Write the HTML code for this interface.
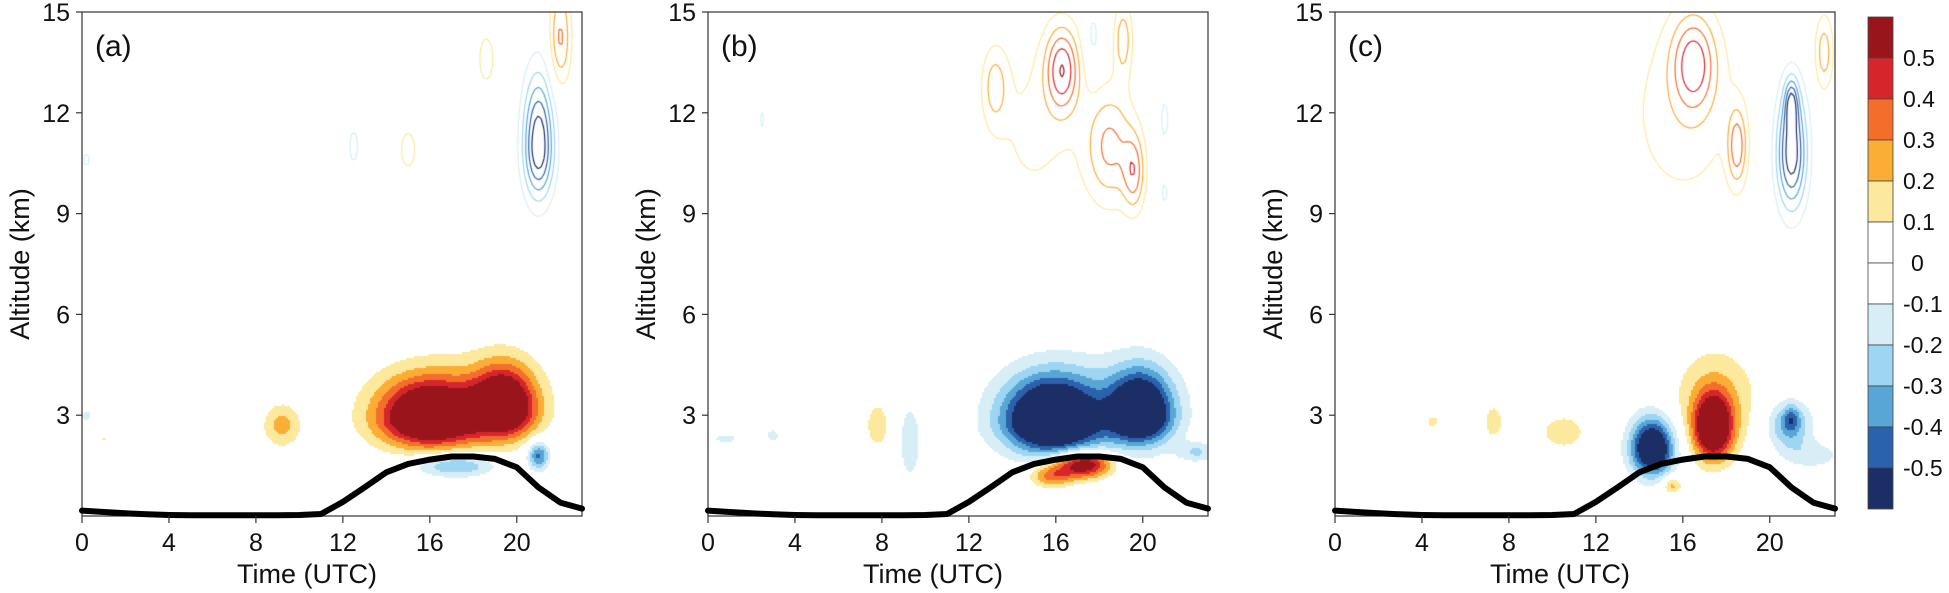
<!DOCTYPE html>
<html><head><meta charset="utf-8">
<style>
html,body{margin:0;padding:0;background:#fff;}
#root{position:relative;width:1949px;height:593px;overflow:hidden;font-family:"Liberation Sans",sans-serif;}
canvas{position:absolute;}
svg{position:absolute;left:0;top:0;}
</style></head>
<body>
<div id="root">
<canvas id="cv0"></canvas>
<canvas id="cv1"></canvas>
<canvas id="cv2"></canvas>
<svg id="sv" width="1949" height="593"></svg>
</div>
<script>
// ---- data ----
const panelLabels = ["(a)","(b)","(c)"];
const xTicks = [0,4,8,12,16,20];
const yTicks = [3,6,9,12,15];
const levels = [-0.5,-0.4,-0.3,-0.2,-0.1,0,0.1,0.2,0.3,0.4,0.5];
const levelColors = ["#1c2e66","#2a62ad","#58a6d6","#9ed5f2","#d8eef6","#ffffff","#ffffff","#fde99d","#fbad35","#f46e2b","#d7262b","#9a151b"];
const cbLabels = ["0.5","0.4","0.3","0.2","0.1","0","-0.1","-0.2","-0.3","-0.4","-0.5"];
const terrainT = [0,1,2,3,4,5,6,7,8,9,10,11,12,13,14,15,16,17,18,19,20,21,22,23];
const terrainZ = [0.16,0.12,0.08,0.05,0.03,0.02,0.02,0.02,0.02,0.02,0.03,0.06,0.42,0.85,1.3,1.55,1.68,1.77,1.77,1.7,1.45,0.85,0.4,0.22];
// blobs: [time, alt, amplitude, sigmaT, sigmaZdown, sigmaZup]
const blobsA = [
 [16,2.9,0.85,1.6,0.55,0.8],[19.4,3.2,0.8,1.0,0.55,0.85],[17.5,3.3,0.12,3.0,1.2,1.2],
 [17.2,1.5,-0.35,1.3,0.25,0.25],[21,1.8,-0.45,0.35,0.3,0.3],
 [9.2,2.7,0.24,0.6,0.45,0.45],[0.2,3.0,-0.12,0.3,0.2,0.2],[1,2.3,0.11,0.2,0.1,0.1],
 [21,11,-0.6,0.5,1.1,1.5],[22,14.2,0.32,0.35,1.0,1.2],[12.5,11,-0.12,0.3,0.7,0.7],[15,10.9,0.12,0.5,0.8,0.8],[18.6,13.6,0.12,0.5,1.0,1.0],[2,12.3,0.11,0.08,0.4,0.4],[0.2,10.6,-0.11,0.3,0.4,0.4]
];
const blobsB = [
 [15.8,2.8,-0.9,1.5,0.6,0.9],[19.9,3.0,-0.85,1.0,0.55,0.9],[17.5,3.2,-0.15,3.0,1.2,1.2],
 [17.3,1.55,0.7,0.9,0.3,0.25],[15.8,1.2,0.35,0.7,0.25,0.25],
 [7.8,2.7,0.2,0.35,0.45,0.45],[9.3,2.2,-0.18,0.35,0.8,0.8],[3,2.4,-0.12,0.3,0.2,0.2],[0.8,2.3,-0.11,1.0,0.2,0.2],[22.5,1.9,-0.2,0.6,0.2,0.2],
 [16.3,13.3,0.45,0.55,0.9,0.9],[18.5,11,0.32,0.8,1.2,1.2],[19.6,10.2,0.3,0.35,0.8,0.8],[13.2,12.8,0.22,0.4,0.8,0.8],
 [15,11.5,0.12,1.6,2.0,2.0],[19.1,14.2,0.26,0.3,0.8,0.8],[17.7,14.2,-0.14,0.3,0.8,0.8],[21,11.8,-0.12,0.25,0.8,0.8],[21,9.6,-0.11,0.25,0.5,0.5],[2.5,11.8,-0.11,0.2,0.5,0.5]
];
const blobsC = [
 [14.6,2.0,-0.8,0.7,0.55,0.65],[17.4,2.6,0.8,0.6,0.6,0.7],[17.5,3.5,0.2,1.4,1.1,1.1],[20.9,2.7,-0.35,0.7,0.5,0.5],[21,2.9,-0.2,0.25,0.25,0.25],[22,1.8,-0.15,1.0,0.3,0.3],
 [10.5,2.5,0.16,0.8,0.4,0.4],[7.3,2.8,0.16,0.35,0.4,0.4],[4.5,2.8,0.12,0.35,0.2,0.2],[15.5,0.9,0.25,0.3,0.2,0.2],
 [16.5,13.5,0.38,0.7,1.0,1.0],[18.5,11,0.33,0.3,0.8,0.8],[16,12,0.15,2.0,2.2,2.2],
 [21,10.8,-0.58,0.5,1.2,1.4],[21,12.3,-0.3,0.2,0.5,0.5],[22.5,13.8,0.26,0.3,0.8,0.8]
];
const panelBlobs = [blobsA, blobsB, blobsC];

// ---- layout ----
const lefts = [82,708,1335], W = 500, TOP = 12, BOT = 516, TMAX = 23, ZMAX = 15;
const xs = (p,t)=> lefts[p] + t / TMAX * W;
const ys = z => BOT - z / ZMAX * (BOT - TOP);
const NS = "http://www.w3.org/2000/svg";
const sv = document.getElementById('sv');
function mk(tag, attrs, parent){const e=document.createElementNS(NS,tag);for(const k in attrs)e.setAttribute(k,attrs[k]);(parent||sv).appendChild(e);return e;}

function terrain(t){
  for(let i=0;i<terrainT.length-1;i++){ if(t<=terrainT[i+1]){const f=(t-terrainT[i])/(terrainT[i+1]-terrainT[i]);return terrainZ[i]+f*(terrainZ[i+1]-terrainZ[i]);} }
  return terrainZ[terrainZ.length-1];
}
function field(blobs,t,z){
  let s=0;
  for(const b of blobs){const dt=(t-b[0])/b[3];const sz=z<b[1]?b[4]:b[5];const dz=(z-b[1])/sz;s+=b[2]*Math.exp(-0.5*(dt*dt+dz*dz));}
  return s;
}
function colorIndex(v){let i=0;while(i<levels.length&&v>=levels[i])i++;return i;}
function lineColor(l){const i=levels.indexOf(l);return l>0?levelColors[i+1]:levelColors[i];}

for(let p=0;p<3;p++){
  const cv=document.getElementById('cv'+p);
  const H=BOT-TOP;
  cv.width=W;cv.height=H;cv.style.left=lefts[p]+'px';cv.style.top=TOP+'px';
  const ctx=cv.getContext('2d');
  const blobs=panelBlobs[p];
  const step=2;
  for(let py=0;py<H;py+=step){
    const z=(BOT-(TOP+py+step/2))/(BOT-TOP)*ZMAX;
    if(z>6.5)continue;
    for(let px=0;px<W;px+=step){
      const t=(px+step/2)/W*TMAX;
      if(z<terrain(t)-0.9)continue;
      const v=field(blobs,t,z);
      const ci=colorIndex(v);
      if(levelColors[ci]==="#ffffff")continue;
      ctx.fillStyle=levelColors[ci];ctx.fillRect(px,py,step,step);
    }
  }
  const g=3,nx=Math.ceil(W/g)+1,ny=Math.ceil(H/g)+1;
  const F=[];
  for(let j=0;j<ny;j++){F.push([]);for(let i=0;i<nx;i++){const t=i*g/W*TMAX,z=(H-j*g)/H*ZMAX;F[j].push(field(blobs,t,z));}}
  ctx.lineWidth=1.2;
  for(const L of levels){
    if(L===0)continue;
    ctx.strokeStyle=lineColor(L);ctx.beginPath();
    for(let j=0;j<ny-1;j++){
      const zc=(H-(j+0.5)*g)/H*ZMAX; if(zc<6.5)continue;
      for(let i=0;i<nx-1;i++){
        const a=F[j][i],b=F[j][i+1],c=F[j+1][i+1],d=F[j+1][i];
        const pts=[];
        const x0=i*g,y0=j*g;
        if((a>=L)!==(b>=L))pts.push([x0+g*(L-a)/(b-a),y0]);
        if((b>=L)!==(c>=L))pts.push([x0+g,y0+g*(L-b)/(c-b)]);
        if((d>=L)!==(c>=L))pts.push([x0+g*(L-d)/(c-d),y0+g]);
        if((a>=L)!==(d>=L))pts.push([x0,y0+g*(L-a)/(d-a)]);
        for(let k=0;k+1<pts.length;k+=2){ctx.moveTo(pts[k][0],pts[k][1]);ctx.lineTo(pts[k+1][0],pts[k+1][1]);}
      }
    }
    ctx.stroke();
  }
}

for(let p=0;p<3;p++){
  const g=mk('g',{});
  
  
  const fr=mk('rect',{x:lefts[p],y:TOP,width:W,height:BOT-TOP,fill:'none',stroke:'#333','stroke-width':1.2},g);
  
  
  let d='';
  terrainT.forEach((t,i)=>{d+=(i?'L':'M')+xs(p,t).toFixed(1)+','+ys(terrainZ[i]).toFixed(1);});
  const tl=mk('path',{d:d,fill:'none',stroke:'#000','stroke-width':6,'stroke-linejoin':'round','stroke-linecap':'round'},g);
  
  
  for(const t of xTicks){
    mk('line',{x1:xs(p,t),x2:xs(p,t),y1:BOT,y2:BOT+7,stroke:'#333','stroke-width':1.2},g);
    const tx=mk('text',{x:xs(p,t),y:551,'text-anchor':'middle','font-size':25,fill:'#111'},g);
    tx.textContent=t;
    
    
  }
  for(const z of yTicks){
    mk('line',{x1:lefts[p]-6,x2:lefts[p],y1:ys(z),y2:ys(z),stroke:'#333','stroke-width':1.2},g);
    const ty=mk('text',{x:lefts[p]-12,y:ys(z)+9,'text-anchor':'end','font-size':25,fill:'#111'},g);
    ty.textContent=z;
    
    
  }
  const xt=mk('text',{x:lefts[p]+W*0.45,y:583,'text-anchor':'middle','font-size':27,fill:'#111'},g);
  xt.textContent='Time (UTC)';
  
  
  const cx=lefts[p]-62, cy=(TOP+BOT)/2;
  const yt=mk('text',{x:cx,y:cy,'text-anchor':'middle','font-size':27,fill:'#111',transform:'rotate(-90 '+cx+' '+cy+')','dominant-baseline':'central'},g);
  yt.textContent='Altitude (km)';
  
  
  const pl=mk('text',{x:lefts[p]+13,y:56,'font-size':30,fill:'#111'},g);
  pl.textContent=panelLabels[p];
  
  
}
const cb=mk('g',{});


const cbTop=17, cbH=41, cbX=1868, cbW=25;
for(let k=0;k<12;k++){
  const r=mk('rect',{x:cbX,y:cbTop+k*cbH,width:cbW,height:cbH,fill:levelColors[11-k],stroke:'#444','stroke-width':0.8},cb);
  
  
}
cbLabels.forEach((s,k)=>{
  const t=mk('text',{x:1903,y:cbTop+(k+1)*cbH+8,'font-size':23,fill:'#111'},cb);
  if(s==='0')t.setAttribute('x',1911);
  t.textContent=s;
  
  
});
</script>
</body></html>
